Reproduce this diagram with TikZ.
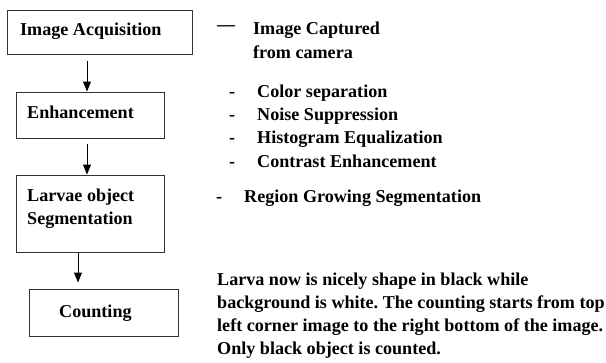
\documentclass[tikz,border=0pt]{standalone}
\usepackage{fontspec}
\setmainfont{Liberation Serif}
\usetikzlibrary{arrows.meta}
\frenchspacing
\tikzset{
  box/.style={draw=black!80, line width=1pt, rectangle, inner sep=0pt},
  lbl/.style={anchor=base west, inner sep=0pt, font=\fontsize{18.1}{20}\selectfont\bfseries},
  arr/.style={draw=black, line width=1pt, -{Triangle[length=10pt,width=8pt]}},
}
\begin{document}
\begin{tikzpicture}[x=1pt,y=-1pt]
\useasboundingbox (0,0) rectangle (606,362);
% boxes
\node[box, minimum width=185pt, minimum height=44pt] (b1) at (99.5,32) {};
\node[box, minimum width=148pt, minimum height=46pt] (b2) at (90,115) {};
\node[box, minimum width=148pt, minimum height=77pt] (b3) at (90,213.5) {};
\node[box, minimum width=149pt, minimum height=47pt] (b4) at (103.5,312.5) {};
% box texts
\node[lbl] (t1) at (20,35) {Image Acquisition};
\node[lbl] (t2) at (27,118) {Enhancement};
\node[lbl] (t3a) at (27,201) {Larvae object};
\node[lbl] (t3b) at (27,224) {Segmentation};
\node[lbl] (t4) at (59,317) {Counting};
% arrows
\coordinate (a1) at (87,0);
\coordinate (a3) at (78,0);
\draw[arr, shorten <=6pt] (b1.south -| a1) -- (b2.north -| a1);
\draw[arr, shorten <=5pt] (b2.south -| a1) -- (b3.north -| a1);
\draw[arr, shorten >=6pt] (b3.south -| a3) -- (b4.north -| a3);
% right side texts
\node[lbl] (d0) at (217,30) {—};
\node[lbl] (r1a) at (253,34) {Image Captured};
\node[lbl] (r1b) at (253,58) {from camera};
\node[lbl] (d1) at (229,97) {-};
\node[lbl] (r2) at (257,97) {Color separation};
\node[lbl] (d2) at (229,120) {-};
\node[lbl] (r3) at (257,120) {Noise Suppression};
\node[lbl] (d3) at (229,143) {-};
\node[lbl] (r4) at (257,143) {Histogram Equalization};
\node[lbl] (d4) at (229,167) {-};
\node[lbl] (r5) at (257,167) {Contrast Enhancement};
\node[lbl] (d5) at (216,202) {-};
\node[lbl] (r6) at (244,202) {Region Growing Segmentation};
\node[lbl] (p1) at (217,285) {Larva now is nicely shape in black while};
\node[lbl] (p2) at (217,308) {background is white. The counting starts from top};
\node[lbl] (p3) at (217,331) {left corner image to the right bottom of the image.};
\node[lbl] (p4) at (217,354) {Only black object is counted.};
\end{tikzpicture}
\end{document}
